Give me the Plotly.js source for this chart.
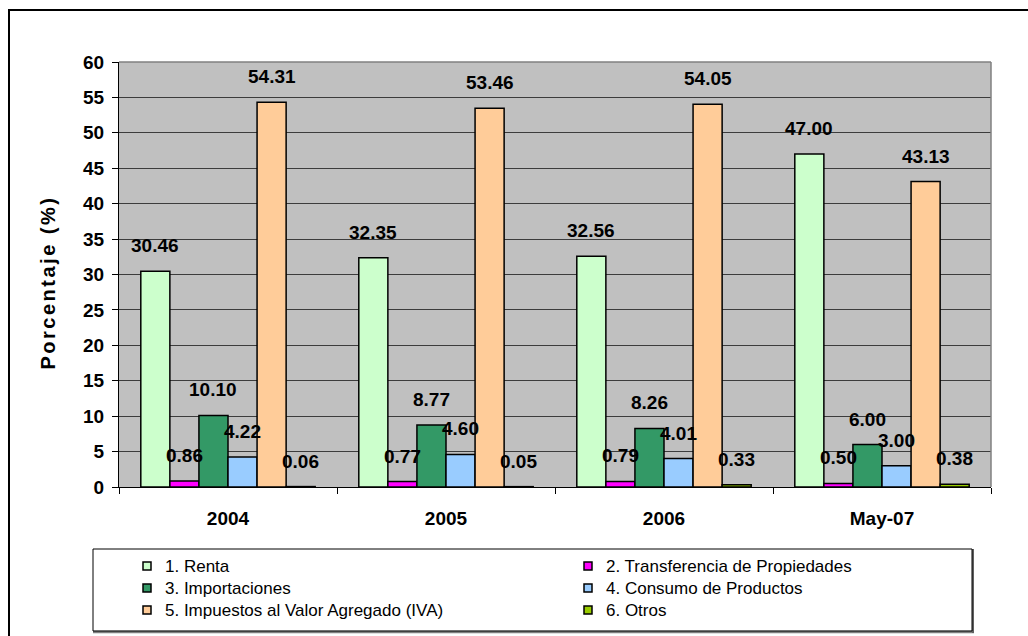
<!DOCTYPE html>
<html>
<head>
<meta charset="utf-8">
<script src="https://cdn.plot.ly/plotly-3.0.1.min.js"></script>
<style>
html,body{margin:0;padding:0;background:#fff;}
#chart{width:1028px;height:636px;}
</style>
</head>
<body>
<div id="chart"></div>
<script>
var categories = ["2004", "2005", "2006", "May-07"];
var seriesNames = [
  "1. Renta",
  "2. Transferencia de Propiedades",
  "3. Importaciones",
  "4. Consumo de Productos",
  "5. Impuestos al Valor Agregado (IVA)",
  "6. Otros"
];
var renta = [30.46, 32.35, 32.56, 47.00];
var transferencia = [0.86, 0.77, 0.79, 0.50];
var importaciones = [10.10, 8.77, 8.26, 6.00];
var consumo = [4.22, 4.60, 4.01, 3.00];
var iva = [54.31, 53.46, 54.05, 43.13];
var otros = [0.06, 0.05, 0.33, 0.38];
var seriesColors = ["#CCFFCC", "#FF00FF", "#339966", "#99CCFF", "#FFCC99", "#99CC00"];
var yTitle = "Porcentaje (%)";

var allSeries = [renta, transferencia, importaciones, consumo, iva, otros];
var FONT = "Liberation Sans, Arial, sans-serif";

var traces = allSeries.map(function (vals, i) {
  return {
    type: "bar",
    name: seriesNames[i],
    x: categories,
    y: vals,
    marker: {color: seriesColors[i], line: {color: "#000", width: 1.5}},
    hoverinfo: "none",
    showlegend: false
  };
});

// plot area in px: left 119, right 991, top 62, bottom 487
function px(xp) { return (xp - 119) / 872; }
function py(yp) { return (487 - yp) / 425; }

var bargap = 0.2;
var nS = allSeries.length;
var barW = (1 - bargap) / nS;
var annotations = [];
allSeries.forEach(function (vals, i) {
  vals.forEach(function (v, j) {
    annotations.push({
      xref: "x", yref: "y",
      x: j + (i - (nS - 1) / 2) * barW,
      y: v,
      text: v.toFixed(2),
      showarrow: false,
      yanchor: "bottom",
      yshift: 13,
      font: {family: FONT, size: 19, color: "#000", weight: "bold"}
    });
  });
});

// y axis title as rotated annotation
annotations.push({
  xref: "paper", yref: "paper",
  x: px(48), y: py(283),
  xanchor: "center", yanchor: "middle",
  textangle: -90,
  text: yTitle, showarrow: false,
  font: {family: FONT, size: 20, color: "#000", weight: "bold"}
});

var shapes = [
  // outer frame
  {type: "rect", xref: "paper", yref: "paper", x0: px(9), x1: px(1040), y0: py(650), y1: py(10),
   line: {color: "#000", width: 2}, fillcolor: "rgba(0,0,0,0)", layer: "below"},
  // plot area gray top/right border
  {type: "line", xref: "paper", yref: "paper", x0: 0, x1: 1, y0: 1, y1: 1, line: {color: "#808080", width: 1.5}},
  {type: "line", xref: "paper", yref: "paper", x0: 1, x1: 1, y0: 0, y1: 1, line: {color: "#808080", width: 1.5}},
  // legend box
  {type: "line", xref: "paper", yref: "paper", x0: px(93), x1: px(974), y0: py(632), y1: py(632), line: {color: "#808080", width: 2.5}},
  {type: "line", xref: "paper", yref: "paper", x0: px(973), x1: px(973), y0: py(549), y1: py(633), line: {color: "#606060", width: 2}},
  {type: "rect", xref: "paper", yref: "paper", x0: px(93), x1: px(972), y0: py(631), y1: py(549),
   line: {color: "#000", width: 1}, fillcolor: "rgba(0,0,0,0)"}
];

// custom legend: two columns, three rows
seriesNames.forEach(function (name, i) {
  var col = i % 2, row = Math.floor(i / 2);
  var cx = 147 + col * 441, cy = 566 + row * 22;
  shapes.push({
    type: "rect", xref: "paper", yref: "paper",
    x0: px(cx - 4), x1: px(cx + 4), y0: py(cy + 4), y1: py(cy - 4),
    fillcolor: seriesColors[i], line: {color: "#000", width: 1.5}
  });
  annotations.push({
    xref: "paper", yref: "paper",
    x: px(cx + 16), y: py(cy),
    xanchor: "left", yanchor: "middle",
    text: name, showarrow: false,
    font: {family: FONT, size: 17, color: "#000"}
  });
});

var layout = {
  width: 1028, height: 636,
  margin: {l: 119, r: 37, t: 62, b: 149, pad: 0, autoexpand: false},
  paper_bgcolor: "#fff",
  plot_bgcolor: "#C0C0C0",
  barmode: "group",
  bargap: bargap,
  bargroupgap: 0,
  showlegend: false,
  xaxis: {
    type: "category",
    showline: true, linecolor: "#000", linewidth: 1,
    ticks: "outside", ticklen: 6, tickcolor: "#000", tickson: "boundaries",
    ticklabelstandoff: 14,
    tickfont: {family: FONT, size: 19, color: "#000", weight: "bold"},
    showgrid: false,
    fixedrange: true
  },
  yaxis: {
    range: [0, 60], dtick: 5, tick0: 0,
    showline: true, linecolor: "#000", linewidth: 1,
    ticks: "outside", ticklen: 6, tickcolor: "#000",
    ticklabelstandoff: 4,
    tickfont: {family: FONT, size: 19, color: "#000", weight: "bold"},
    showgrid: true, gridcolor: "#3c3c3c", gridwidth: 1,
    zeroline: false,
    fixedrange: true
  },
  annotations: annotations,
  shapes: shapes
};

Plotly.newPlot("chart", traces, layout, {staticPlot: true, displayModeBar: false}).then(function () {
  var texts = document.querySelectorAll(".annotation-text");
  texts.forEach(function (t) {
    if (t.textContent === yTitle) { t.style.letterSpacing = "2.5px"; }
  });
});
</script>
</body>
</html>
